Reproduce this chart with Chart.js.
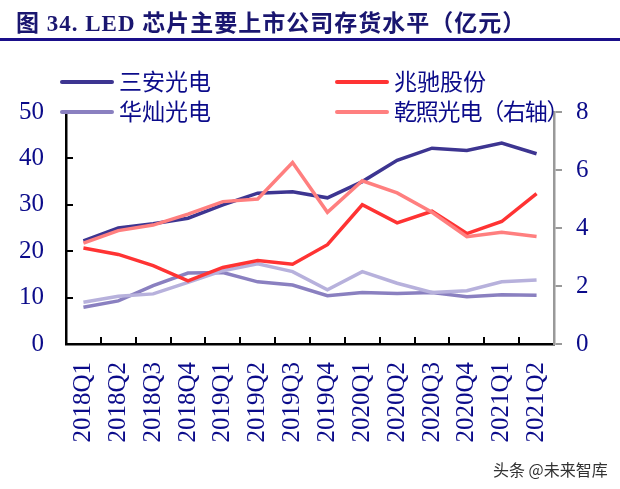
<!DOCTYPE html>
<html>
<head>
<meta charset="utf-8">
<script src="https://cdn.jsdelivr.net/npm/chart.js@4.4.1/dist/chart.umd.min.js"></script>
<style>
  html, body { margin: 0; padding: 0; background: #fff; }
  #wrap { position: relative; width: 620px; height: 489px; overflow: hidden; background: #fff; }
  #c { position: absolute; left: 0; top: 0; }
  .title { position: absolute; left: 16px; top: 4px; font-family: "Liberation Serif", "Noto Sans CJK SC", serif; font-weight: bold; font-size: 23px; color: #1a1670; white-space: nowrap; letter-spacing: 1px; }
  .rule { position: absolute; left: 0; top: 38px; width: 620px; height: 3px; background: #1a0f8a; }
  .leg { position: absolute; font-family: "Noto Sans CJK SC", sans-serif; font-size: 23px; color: #0b0b8a; white-space: nowrap; line-height: 1; }
  .sw { position: absolute; height: 4px; border-radius: 2px; }
  .wm { position: absolute; left: 493px; top: 457px; font-family: "Noto Sans CJK SC", sans-serif; font-size: 16px; color: #333; white-space: nowrap; }
</style>
</head>
<body>
<div id="wrap">
  <canvas id="c" width="620" height="489"></canvas>
  <div class="title">图 34. LED 芯片主要上市公司存货水平（亿元）</div>
  <div class="rule"></div>
  <div id="legend"></div>
  <div class="wm">头条 @未来智库</div>
</div>
<script>
// ---- data ----
const categories = ["2018Q1","2018Q2","2018Q3","2018Q4","2019Q1","2019Q2","2019Q3","2019Q4","2020Q1","2020Q2","2020Q3","2020Q4","2021Q1","2021Q2"];
const sanan    = [22.2, 25.0, 25.9, 27.1, 30.0, 32.5, 32.8, 31.5, 35.0, 39.6, 42.2, 41.7, 43.3, 41.0];
const zhaochi  = [20.7, 19.3, 16.9, 13.6, 16.5, 18.0, 17.2, 21.4, 30.0, 26.1, 28.6, 23.8, 26.4, 32.4];
const huacan   = [7.9, 9.3, 12.6, 15.3, 15.4, 13.4, 12.7, 10.4, 11.1, 10.9, 11.1, 10.2, 10.6, 10.5];
const unlabeled = [9.0, 10.3, 10.8, 13.3, 15.8, 17.3, 15.6, 11.7, 15.6, 13.1, 11.1, 11.5, 13.4, 13.8];
const qianzhao = [3.48, 3.91, 4.10, 4.48, 4.91, 5.00, 6.26, 4.54, 5.63, 5.21, 4.54, 3.70, 3.85, 3.71];
const leftTicks = [0, 10, 20, 30, 40, 50];
const rightTicks = [0, 2, 4, 6, 8];
const seriesNames = ["三安光电", "兆驰股份", "华灿光电", "乾照光电（右轴）"];

const colors = { sanan: "#3d3591", zhaochi: "#ff3333", huacan: "#8a80c0", unlabeled: "#b7b1dc", qianzhao: "#ff7f7f" };
const tickColor = "#0b0b8a";

// ---- legend (HTML) ----
const legendItems = [
  { name: seriesNames[0], color: colors.sanan, x: 60, y: 82, ls: 0 },
  { name: seriesNames[1], color: colors.zhaochi, x: 335, y: 82, ls: 0 },
  { name: seriesNames[2], color: colors.huacan, x: 60, y: 112, ls: 0 },
  { name: seriesNames[3], color: colors.qianzhao, x: 335, y: 112, ls: -1.2 }
];
const legEl = document.getElementById("legend");
legendItems.forEach(it => {
  const sw = document.createElement("div");
  sw.className = "sw";
  sw.style.left = it.x + "px"; sw.style.top = (it.y - 2) + "px"; sw.style.width = "54px"; sw.style.background = it.color;
  legEl.appendChild(sw);
  const t = document.createElement("div");
  t.className = "leg";
  t.textContent = it.name;
  t.style.letterSpacing = it.ls + "px";
  t.style.left = (it.x + 59) + "px"; t.style.top = (it.y - 13) + "px";
  legEl.appendChild(t);
});

// ---- inward tick marks plugin ----
const inwardTicks = {
  id: "inwardTicks",
  afterDatasetsDraw(chart) {
    const { ctx, chartArea, scales } = chart;
    ctx.save();
    ctx.strokeStyle = "#000";
    ctx.lineWidth = 2;
    const y = scales.y;
    leftTicks.forEach(v => {
      if (v === 0) return;
      const py = Math.round(y.getPixelForValue(v));
      ctx.beginPath(); ctx.moveTo(chartArea.left, py); ctx.lineTo(chartArea.left + 7, py); ctx.stroke();
    });
    const x = scales.x;
    for (let k = 1; k < categories.length; k++) {
      const px = Math.round((x.getPixelForValue(k - 1) + x.getPixelForValue(k)) / 2);
      ctx.beginPath(); ctx.moveTo(px, chartArea.bottom); ctx.lineTo(px, chartArea.bottom - 7); ctx.stroke();
    }
    ctx.restore();
  }
};

const lineDs = (label, data, color, axis) => ({
  label, data, borderColor: color, backgroundColor: color, borderWidth: 3.5,
  pointRadius: 0, pointHoverRadius: 0, tension: 0, fill: false, yAxisID: axis,
  borderCapStyle: "butt", borderJoinStyle: "miter"
});

new Chart(document.getElementById("c"), {
  type: "line",
  data: {
    labels: categories,
    datasets: [
      lineDs(seriesNames[3], qianzhao, colors.qianzhao, "y1"),
      lineDs(seriesNames[1], zhaochi, colors.zhaochi, "y"),
      lineDs(seriesNames[0], sanan, colors.sanan, "y"),
      lineDs("", unlabeled, colors.unlabeled, "y"),
      lineDs(seriesNames[2], huacan, colors.huacan, "y")
    ]
  },
  options: {
    responsive: false,
    animation: false,
    devicePixelRatio: 1,
    layout: { padding: { top: 112, left: 0, right: 0, bottom: 0 } },
    plugins: { legend: { display: false }, tooltip: { enabled: false } },
    scales: {
      x: {
        offset: true,
        grid: { display: false, drawTicks: false },
        border: { display: true, color: "#000", width: 2.5 },
        ticks: {
          autoSkip: false, minRotation: 90, maxRotation: 90, padding: 18,
          color: tickColor, font: { family: "Liberation Serif", size: 25 }
        },
        afterFit(s) { s.height = 145; }
      },
      y: {
        position: "left", min: 0, max: 50,
        afterBuildTicks(s) { s.ticks = leftTicks.map(v => ({ value: v })); },
        grid: { display: false, drawTicks: false },
        border: { display: true, color: "#000", width: 2.5 },
        ticks: { padding: 22, color: tickColor, font: { family: "Liberation Serif", size: 25 } },
        afterFit(s) { s.width = 66; }
      },
      y1: {
        position: "right", min: 0, max: 8,
        afterBuildTicks(s) { s.ticks = rightTicks.map(v => ({ value: v })); },
        grid: { display: true, drawOnChartArea: false, drawTicks: true, tickLength: 8, color: "#999", lineWidth: 2 },
        border: { display: true, color: "#999", width: 2.5 },
        ticks: { padding: 14, color: tickColor, font: { family: "Liberation Serif", size: 25 } },
        afterFit(s) { s.width = 66; }
      }
    }
  },
  plugins: [inwardTicks]
});
</script>
</body>
</html>
